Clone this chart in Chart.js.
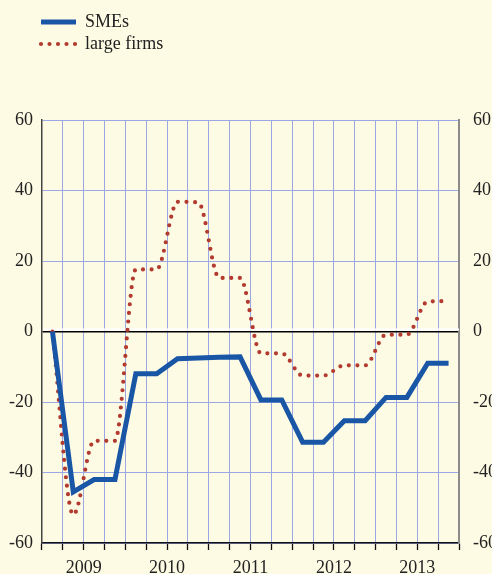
<!DOCTYPE html>
<html>
<head>
<meta charset="utf-8">
<script src="https://cdn.jsdelivr.net/npm/chart.js@4.4.1/dist/chart.umd.min.js"></script>
<style>
  html, body { margin: 0; padding: 0; background: #fefbe5; overflow: hidden; }
  canvas { display: block; }
</style>
</head>
<body>
<canvas id="myLineChart" width="492" height="574"></canvas>
<script>
// quarterly data, 2009 Q1 .. 2013 Q4
var quarters = [
  '2009 Q1', '2009 Q2', '2009 Q3', '2009 Q4',
  '2010 Q1', '2010 Q2', '2010 Q3', '2010 Q4',
  '2011 Q1', '2011 Q2', '2011 Q3', '2011 Q4',
  '2012 Q1', '2012 Q2', '2012 Q3', '2012 Q4',
  '2013 Q1', '2013 Q2', '2013 Q3', '2013 Q4'
]
var years = ['2009', '2010', '2011', '2012', '2013']
var smes = [0, -45.5, -42, -42, -12, -12, -7.7, -7.5, -7.3, -7.2, -19.4, -19.4, -31.4, -31.4, -25.3, -25.3, -18.7, -18.7, -9, -9]
var largeFirms = [0, -52, -31, -31, 17.6, 17.6, 36.8, 36.6, 15.2, 15.2, -6.2, -6.2, -12.5, -12.5, -9.6, -9.6, -0.9, -0.9, 8.5, 8.6]
var yTicks = [-60, -40, -20, 0, 20, 40, 60]

var serif = '"Liberation Serif", "Times New Roman", serif'
var gridBlue = '#9ca8e6'

var ctx = document.getElementById("myLineChart");

// put the legend above the plot, one item per row
const legendSpot = {
  id: 'legendSpot',
  afterLayout(chart) {
    const lg = chart.legend;
    if (!lg) return;
    lg.left = 37; lg.right = 300;
    lg.top = 9; lg.bottom = 75;
  }
};

// thin white band just above the zero line
const zeroBand = {
  id: 'zeroBand',
  beforeDatasetsDraw(chart) {
    const y = chart.scales.y.getPixelForValue(0);
    const c = chart.ctx;
    c.save();
    c.strokeStyle = '#ffffff';
    c.lineWidth = 2;
    c.beginPath();
    c.moveTo(chart.chartArea.left + 1, y - 2);
    c.lineTo(chart.chartArea.right, y - 2);
    c.stroke();
    c.restore();
  }
};

function yAxis(pos) {
  return {
    position: pos,
    min: yTicks[0],
    max: yTicks[yTicks.length - 1],
    afterBuildTicks: function (s) { s.ticks = yTicks.map(v => ({ value: v })) },
    afterFit: function (s) { s.width = pos === 'left' ? 42 : 33 },
    grid: {
      display: pos === 'left',
      drawTicks: false,
      color: c => (c.tick && c.tick.value === 0) ? '#000' : gridBlue,
      lineWidth: c => (c.tick && c.tick.value === 0) ? 1.6 : 1
    },
    border: { color: pos === 'left' ? '#444' : '#8c8c8c', width: pos === 'left' ? 1.5 : 2 },
    ticks: {
      padding: pos === 'left' ? 9 : 14,
      color: '#222',
      font: { family: serif, size: 18 }
    }
  }
}

var myLineChart = new Chart(ctx, {
  type: 'line',
  data: {
    labels: quarters,
    datasets: [{
      label: 'SMEs',
      data: smes,
      borderColor: '#1a56a6',
      backgroundColor: '#1a56a6',
      borderWidth: 5,
      pointRadius: 0,
      tension: 0
    }, {
      label: 'large firms',
      data: largeFirms,
      borderColor: '#b23a2f',
      backgroundColor: '#b23a2f',
      borderWidth: 4.2,
      borderDash: [0, 8.6],
      borderCapStyle: 'round',
      pointRadius: 0,
      cubicInterpolationMode: 'monotone'
    }]
  },
  plugins: [legendSpot, zeroBand],
  options: {
    responsive: false,
    animation: false,
    layout: { padding: { top: 120, left: 0, right: 0, bottom: 0 } },
    plugins: {
      tooltip: { enabled: false },
      legend: {
        position: 'chartArea',
        align: 'start',
        labels: {
          usePointStyle: true,
          pointStyle: 'line',
          pointStyleWidth: 35,
          padding: 4,
          color: '#222',
          font: { family: serif, size: 18, lineHeight: 1.1 },
          generateLabels: function (chart) {
            var items = Chart.defaults.plugins.legend.labels.generateLabels(chart);
            items.forEach(function (it) {
              var ds = chart.data.datasets[it.datasetIndex];
              it.lineDash = ds.borderDash ? [0, 8.5] : [];
              it.lineCap = ds.borderCapStyle || 'butt';
              it.lineWidth = ds.borderWidth;
              it.strokeStyle = ds.borderColor;
            });
            return items;
          }
        }
      }
    },
    scales: {
      x: {
        offset: true,
        weight: 0,
        afterFit: function (s) { s.height = 8 },
        grid: { offset: true, color: gridBlue, tickColor: '#111', tickLength: 7, tickWidth: 1.3 },
        border: { color: '#111', width: 1.5 },
        ticks: { display: false }
      },
      x2: {
        type: 'category',
        labels: years,
        offset: true,
        position: 'bottom',
        weight: 1,
        afterFit: function (s) { s.height = 23 },
        grid: { display: false },
        border: { display: false },
        ticks: { padding: -2, color: '#222', maxRotation: 0, font: { family: serif, size: 18 } }
      },
      y: yAxis('left'),
      y2: yAxis('right')
    }
  }
});
</script>
</body>
</html>
